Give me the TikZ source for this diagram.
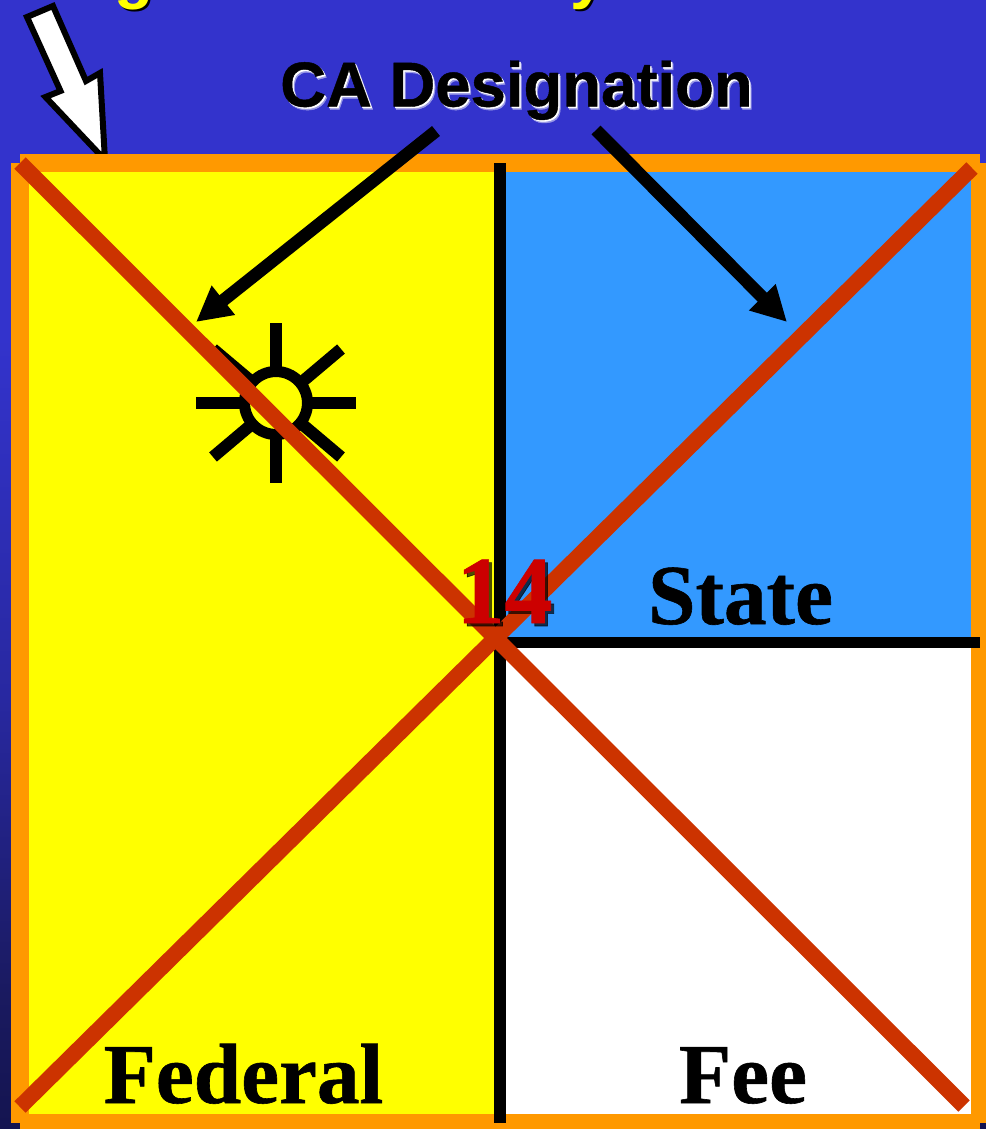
\documentclass[tikz,border=0pt]{standalone}
\usepackage{fontspec}
\setmainfont{Liberation Serif}
\setsansfont{Liberation Sans}
\newfontfamily\heavyserif[FakeBold=0.7]{Liberation Serif Bold}
\newfontfamily\heavysans[FakeBold=0.7]{Liberation Sans Bold}
\usetikzlibrary{arrows.meta}
\definecolor{slideblue}{HTML}{3333CC}
\definecolor{slidemid}{HTML}{2828A0}
\definecolor{slidelow}{HTML}{1A1A60}
\definecolor{slidedark}{HTML}{141450}
\definecolor{frameorange}{HTML}{FF9900}
\definecolor{crossred}{HTML}{CC3300}
\definecolor{skyblue}{HTML}{3399FF}
\definecolor{numred}{HTML}{CC0000}
\definecolor{fieldyellow}{HTML}{FFFF00}
\definecolor{halo}{HTML}{9999E6}
\pgfdeclareverticalshading{slidebg}{100bp}{color(0bp)=(slidedark); color(25bp)=(slidedark); color(31bp)=(slidelow); color(44bp)=(slidemid); color(60bp)=(slideblue); color(100bp)=(slideblue)}
\tikzset{
  x=0.75pt,y=-0.75pt,
  frameline/.style={draw=frameorange,line width=13.5pt,line cap=butt},
  crossline/.style={draw=crossred,line width=12pt,line cap=butt},
  divider/.style={draw=black,line width=8.6pt,line cap=butt},
  sunray/.style={draw=black,line width=9pt,line cap=butt},
  pointer/.style={draw=black,line width=9.5pt,line cap=butt,-{Triangle[length=26.25pt,width=26.25pt]}},
  owner/.style={font=\heavyserif\fontsize{64}{64}\selectfont,inner sep=0pt,anchor=base,text=black},
  casans/.style={font=\heavysans\fontsize{47.6}{47.6}\selectfont,inner sep=0pt,anchor=base},
  topsans/.style={font=\sffamily\bfseries\fontsize{48}{48}\selectfont,inner sep=0pt,anchor=base},
  numeral/.style={font=\heavyserif\fontsize{72}{72}\selectfont,inner sep=0pt,anchor=base},
}
\begin{document}
\begin{tikzpicture}
\useasboundingbox (0,0) rectangle (986,1129);
\clip (0,0) rectangle (986,1129);
\shade[shading=slidebg] (0,0) rectangle (986,1129);
% top text, cut by the page edge
\node[topsans,text=black] (gshade) at (136,-2) {g};
\node[topsans,text=fieldyellow] (gtext) at (134,-4) {g};
\node[topsans,text=black] (yshade) at (590,-2) {y};
\node[topsans,text=fieldyellow] (ytext) at (588,-4) {y};
% white arrow
\draw[black,line width=4.5pt,miter limit=10,fill=white,line join=miter]
  (27,17) -- (53,6) -- (86,81) -- (100,73) -- (105,160) -- (45.5,97) -- (60.5,91) -- cycle;
% fields
\fill[fieldyellow] (20,163) rectangle (500,1123);
\fill[skyblue] (500,163) rectangle (980,642);
\fill[white] (500,642) rectangle (980,1123);
% frame
\draw[frameline] (20,163) -- (980,163);
\draw[frameline] (20,163) -- (20,1123);
\draw[frameline] (980,163) -- (980,1123);
\draw[frameline] (20,1123) -- (980,1123);
% dividers
\draw[divider] (500,163) -- (500,1123);
\draw[divider] (500,642.5) -- (980,642.5);
% sun
\coordinate (sun) at (276,403);
\draw[sunray] (276,323) -- (276,483);
\draw[sunray] (196,403) -- (356,403);
\draw[sunray] (341,349) -- (213,457);
\draw[sunray] (213,349) -- (341,457);
\draw[black,line width=8.3pt,fill=fieldyellow] (sun) circle[radius=31.5];
% cross
\draw[crossline] (20,163) -- (964,1106);
\draw[crossline] (972,168) -- (20,1107);
% labels
\node[owner] (statelabel) at (740.5,624) {State};
\node[owner] (federallabel) at (243.5,1103) {Federal};
\node[owner] (feelabel) at (743,1103) {Fee};
\node[numeral,text=black,opacity=0.7] (numshade) at (507.5,626) {14};
\node[numeral,text=numred] (numlabel) at (504.5,623) {14};
% CA Designation
\node[casans,text=halo] (cashadeb) at (519,109.5) {CA Designation};
\node[casans,text=white] (cashade) at (518,108) {CA Designation};
\node[casans,text=black] (calabel) at (516.5,106.5) {CA Designation};
\coordinate (castartl) at (436,131);
\coordinate (castartr) at (596,130);
\coordinate (catipl) at (196,322);
\coordinate (catipr) at (787,322);
\draw[pointer] (castartl) -- (catipl);
\draw[pointer] (castartr) -- (catipr);
\end{tikzpicture}
\end{document}
